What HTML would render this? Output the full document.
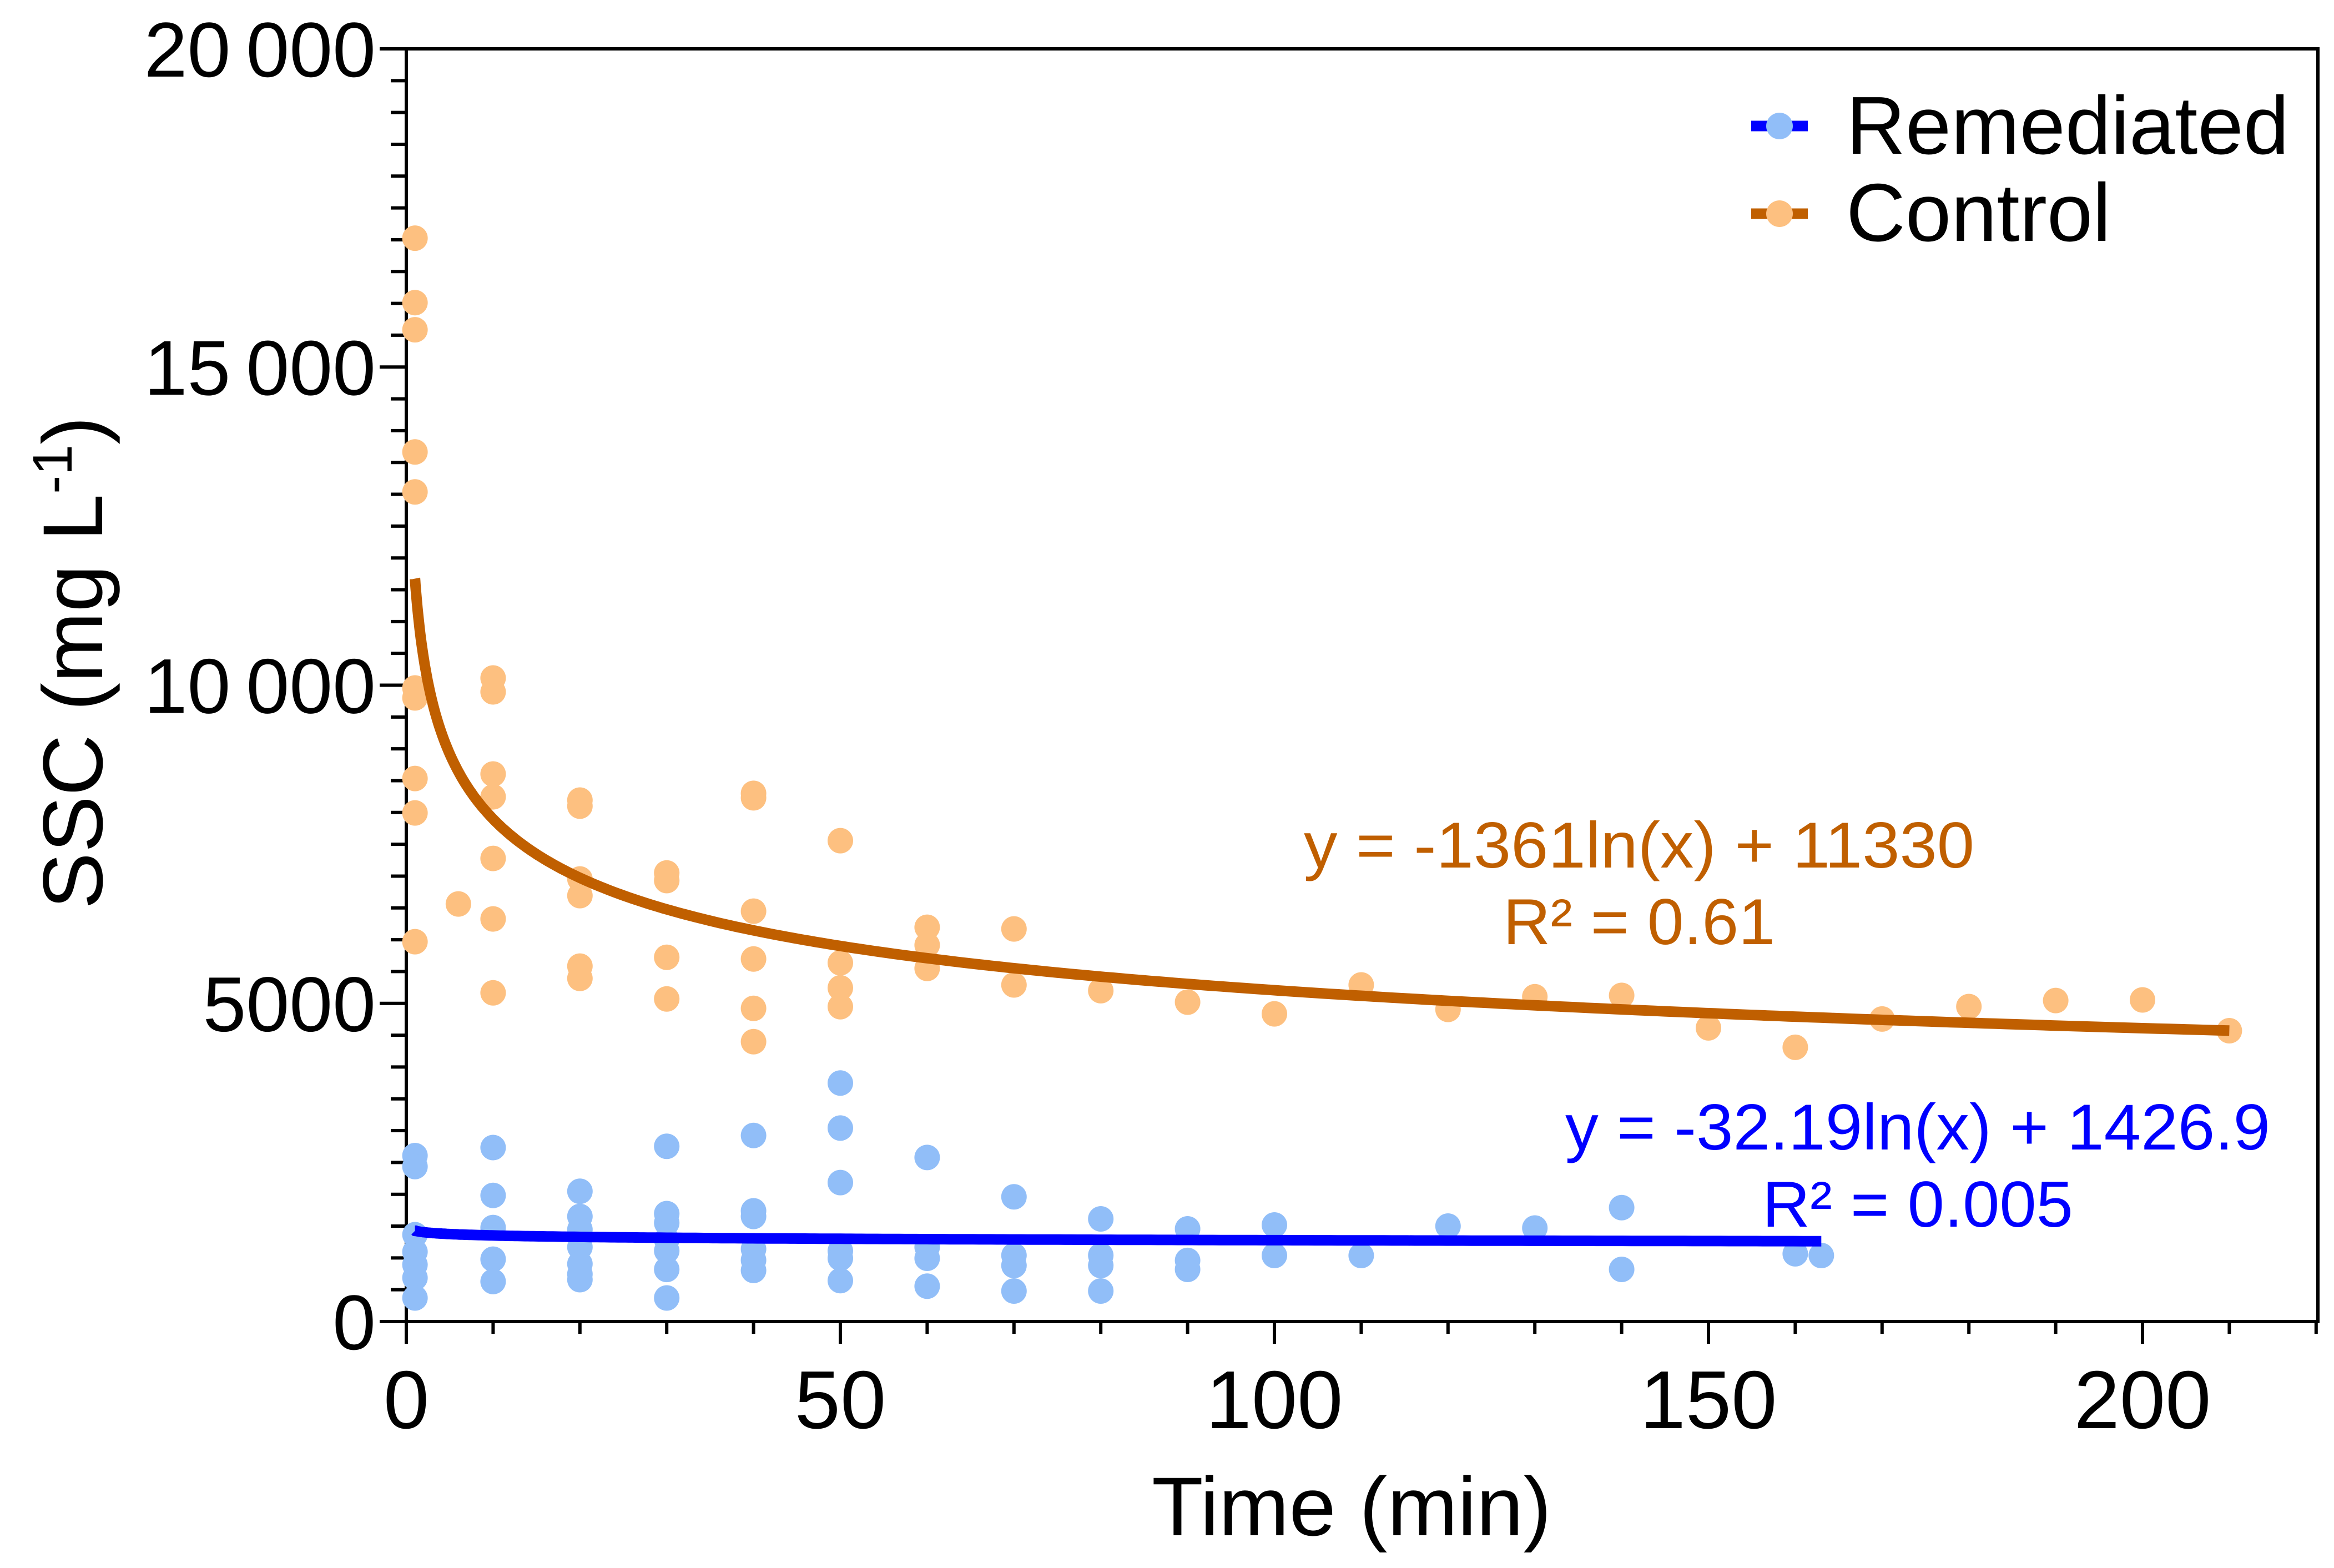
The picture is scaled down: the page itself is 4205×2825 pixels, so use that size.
<!DOCTYPE html>
<html><head><meta charset="utf-8"><style>
html,body{margin:0;padding:0;background:#fff;}
svg{display:block;font-family:"Liberation Sans",Arial,sans-serif;}
</style></head><body>
<svg id="chart" width="4205" height="2825" viewBox="0 0 4205 2825" xmlns="http://www.w3.org/2000/svg">
<g id="axes"></g>
<g id="marks"></g>
<text transform="translate(184,1194) rotate(-90)" text-anchor="middle" font-size="153">SSC (mg L<tspan dy="-55" font-size="100">-1</tspan><tspan dy="55">)</tspan></text>
<text x="2435" y="2766" text-anchor="middle" font-size="150" textLength="720" lengthAdjust="spacingAndGlyphs">Time (min)</text>
<g>
  <g>
    <line x1="3155" y1="227" x2="3257" y2="227" stroke="#0000ff" stroke-width="19"/>
    <circle cx="3206" cy="227" r="24" fill="#91bef8"/>
    <text x="3326" y="277" font-size="148">Remediated</text>
  </g>
  <g>
    <line x1="3155" y1="385" x2="3257" y2="385" stroke="#c05f00" stroke-width="19"/>
    <circle cx="3206" cy="385" r="24" fill="#fdc080"/>
    <text x="3326" y="434" font-size="148">Control</text>
  </g>
</g>
<g fill="#c05f00" font-size="117" text-anchor="middle">
  <text x="2953" y="1563" textLength="1208" lengthAdjust="spacingAndGlyphs">y = -1361ln(x) + 11330</text>
  <text x="2953" y="1701" textLength="490" lengthAdjust="spacingAndGlyphs">R² = 0.61</text>
</g>
<g fill="#0000ff" font-size="117" text-anchor="middle">
  <text x="3455" y="2071" textLength="1270" lengthAdjust="spacingAndGlyphs">y = -32.19ln(x) + 1426.9</text>
  <text x="3455" y="2210" textLength="560" lengthAdjust="spacingAndGlyphs">R² = 0.005</text>
</g>
</svg>
<script>
const xTicks = [0, 50, 100, 150, 200];
const yTicks = [0, 5000, 10000, 15000, 20000];
const yTickLabels = ["0", "5000", "10\u2009000", "15\u2009000", "20\u2009000"];
const controlX = [1,1,1,1,1,1,1,1,1,1, 6, 10,10,10,10,10,10,10, 20,20,20,20,20,20, 30,30,30,30, 40,40,40,40,40,40, 50,50,50,50, 60,60,60, 70,70, 80,90,100,110,120,130,140,150,160,170,180,190,200,210];
const controlY = [17025,16012,15585,13665,13037,9956,9800,8534,7993,5969, 6562, 10113,9895,8604,8246,7278,6327,5166, 8194,8100,6955,6693,5585,5393, 7050,6930,5724,5070, 8300,8230,6449,5698,4921,4398, 7557,5637,5244,4948, 6196,5916,5550, 6170,5290, 5200,5020,4835,5290,4905,5105,5125,4615,4310,4755,4950,5045,5055,4570];
const remX = [1,1,1,1,1,1,1, 10,10,10,10,10, 20,20,20,20,20,20,20, 30,30,30,30,30,30,30, 40,40,40,40,40,40, 50,50,50,50,50,50, 60,60,60,60, 70,70,70,70, 80,80,80,80, 90,90,90, 100,100, 110, 120, 130, 140,140, 160, 163];
const remY = [2608,2436,1365,1096,892,687,371, 2734,1982,1477,980,629, 2047,1652,1447,1170,906,746,658, 2754,1696,1550,1287,1111,819,371, 2924,1740,1652,1140,965,804, 3748,3041,2184,1111,994,643, 2579,1170,994,556, 1960,1040,880,480, 1614,1040,880,480, 1457,960,820, 1518,1038, 1038, 1500, 1470, 1790,820, 1065, 1038];
// drawn trend curves: y = b + a*ln(x) + q*ln(x)^2 over [xStart, xEnd]
const controlCurve = [11675, -1877, 102.6, 1, 210];
const remCurve = [1426.9, -32.19, 0, 1, 163];

const NS = "http://www.w3.org/2000/svg";
const L = 732, R = 4176, T = 88, B = 2381;
const xs = v => L + v * 15.64;
const ys = v => B - v * (B - T) / 20000;
function mk(tag, attrs, parent) { const e = document.createElementNS(NS, tag); for (const k in attrs) e.setAttribute(k, attrs[k]); parent.appendChild(e); return e; }
const axes = document.getElementById('axes');
const marks = document.getElementById('marks');

const frame = mk('path', {d:`M${L},${T} H${R} V${B} H${L} Z`, fill:'none', stroke:'#000', 'stroke-width':6}, axes);


for (let v = 0; v <= 20000; v += 500) {
  const major = v % 5000 === 0;
  const t = mk('line', {x1:L - (major ? 48 : 28), x2:L, y1:ys(v), y2:ys(v), stroke:'#000', 'stroke-width':6}, axes);
  
  
}
yTicks.forEach((v, i) => {
  const t = mk('text', {x:677, y:ys(v) + 50, 'text-anchor':'end', 'font-size':140}, axes);
  t.textContent = yTickLabels[i];
  
  
});
for (let v = 0; v <= 220; v += 10) {
  const major = v % 50 === 0;
  const t = mk('line', {x1:xs(v), x2:xs(v), y1:B, y2:B + (major ? 40 : 22), stroke:'#000', 'stroke-width':6}, axes);
  
  
}
xTicks.forEach(v => {
  const t = mk('text', {x:xs(v), y:2573, 'text-anchor':'middle', 'font-size':148}, axes);
  t.textContent = String(v);
  
  
});

controlX.forEach((x, i) => {
  const c = mk('circle', {cx:xs(x), cy:ys(controlY[i]), r:23, fill:'#fdc080'}, marks);
  
  
});
remX.forEach((x, i) => {
  const c = mk('circle', {cx:xs(x), cy:ys(remY[i]), r:23, fill:'#91bef8'}, marks);
  
  
});
function fitPath(f) {
  let d = '';
  for (let k = 0; k <= 300; k++) {
    const x = f[3] + (f[4] - f[3]) * Math.pow(k / 300, 2);
    const lx = Math.log(x);
    const y = f[0] + f[1] * lx + f[2] * lx * lx;
    d += (k ? 'L' : 'M') + xs(x).toFixed(1) + ',' + ys(y).toFixed(1);
  }
  return d;
}
const lc = mk('path', {d:fitPath(controlCurve), fill:'none', stroke:'#c05f00', 'stroke-width':19}, marks);


const lr = mk('path', {d:fitPath(remCurve), fill:'none', stroke:'#0000ff', 'stroke-width':19}, marks);


</script>
</body></html>
